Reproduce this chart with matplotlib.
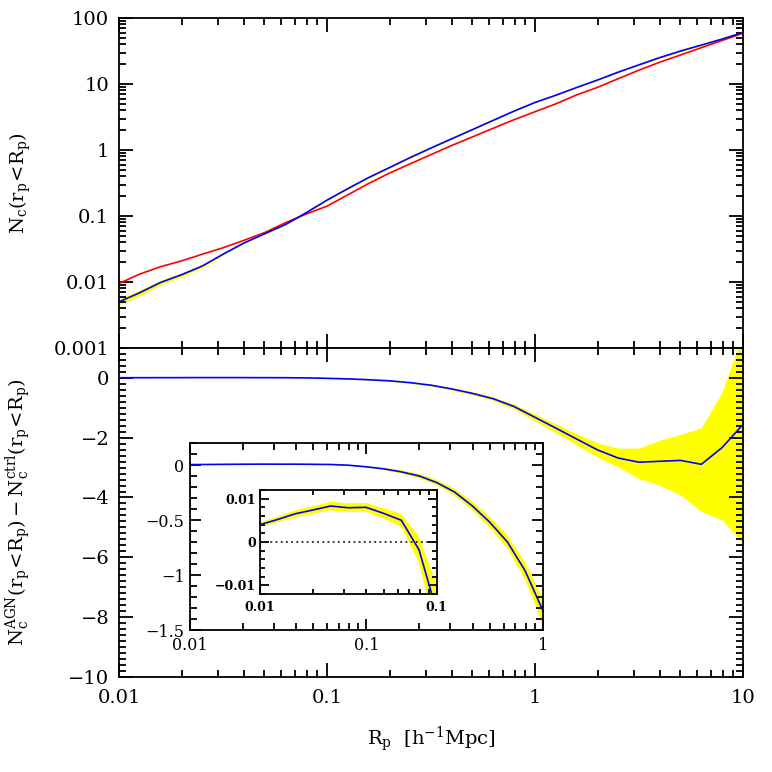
import numpy as np
import matplotlib
matplotlib.use('Agg')
import matplotlib.pyplot as plt
from matplotlib.ticker import LogLocator, MultipleLocator, FuncFormatter, NullFormatter

plt.rcParams['font.family'] = ['DejaVu Serif']
plt.rcParams['mathtext.fontset'] = 'dejavuserif'

# projected radius bins [h^-1 Mpc]
rp = [0.01, 0.0126, 0.0158, 0.02, 0.0251, 0.0316, 0.0398, 0.0501, 0.0631, 0.0794,
      0.1, 0.126, 0.158, 0.2, 0.251, 0.316, 0.398, 0.501, 0.631, 0.794,
      1.0, 1.26, 1.58, 2.0, 2.51, 3.16, 3.98, 5.01, 6.31, 7.94, 10.0]

# cumulative counts, control sample (blue) and AGN sample (red)
n_ctrl = [0.0050, 0.0069, 0.0098, 0.0129, 0.0174, 0.0263, 0.0389, 0.0537, 0.0741, 0.112,
          0.174, 0.260, 0.380, 0.543, 0.767, 1.07, 1.48, 2.04, 2.82, 3.89,
          5.25, 6.76, 8.81, 11.5, 15.1, 19.5, 25.1, 31.6, 38.9, 47.9, 60.3]
n_agn = [0.0095, 0.0132, 0.0170, 0.0209, 0.0263, 0.033, 0.0427, 0.056, 0.079, 0.107,
         0.141, 0.209, 0.309, 0.447, 0.617, 0.851, 1.17, 1.58, 2.14, 2.88,
         3.8, 5.0, 6.8, 8.9, 12.0, 16.2, 21.4, 27.5, 35.5, 45.7, 58.9]

# difference AGN - ctrl and its band
diff = [0.0040, 0.0052, 0.0065, 0.0074, 0.0083, 0.0079, 0.0080, 0.0066, 0.0050, -0.0018,
        -0.016, -0.035, -0.062, -0.10, -0.16, -0.245, -0.37, -0.52, -0.70, -0.96,
        -1.32, -1.68, -2.04, -2.41, -2.68, -2.82, -2.79, -2.76, -2.89, -2.33, -1.56]
diff_lo = [0.0035, 0.0045, 0.0057, 0.0065, 0.0073, 0.0069, 0.0070, 0.0054, 0.0035, -0.0048,
           -0.022, -0.045, -0.077, -0.12, -0.185, -0.275, -0.41, -0.57, -0.76, -1.04,
           -1.45, -1.83, -2.24, -2.65, -2.98, -3.37, -3.59, -3.92, -4.47, -4.75, -5.52]
diff_hi = [0.0045, 0.0059, 0.0073, 0.0083, 0.0093, 0.0089, 0.0090, 0.0078, 0.0065, 0.0012,
           -0.010, -0.025, -0.047, -0.08, -0.135, -0.215, -0.33, -0.47, -0.64, -0.88,
           -1.21, -1.54, -1.86, -2.17, -2.35, -2.35, -2.08, -1.89, -1.67, -0.47, 1.5]

rp = np.array(rp)
n_ctrl = np.array(n_ctrl)
half = (np.array(diff_hi) - np.array(diff_lo)) / 2

BLUE = '#0000ff'
RED = '#ff0000'
YEL = '#ffff00'
LW = 1.2

fmt = FuncFormatter(lambda v, p: ('%g' % v).replace('-', '\u2212'))


def style(ax, fs, maj, mnr, pad, w=1.3):
    ax.tick_params(which='both', direction='in', top=True, right=True, width=w, labelsize=fs)
    ax.tick_params(which='major', length=maj, pad=pad)
    ax.tick_params(which='minor', length=mnr)
    for s in ax.spines.values():
        s.set_linewidth(w)


def logx(ax):
    ax.set_xscale('log')
    ax.xaxis.set_major_locator(LogLocator(base=10))
    ax.xaxis.set_minor_locator(LogLocator(base=10, subs=np.arange(2, 10)))
    ax.xaxis.set_minor_formatter(NullFormatter())
    ax.xaxis.set_major_formatter(fmt)


fig = plt.figure(figsize=(7.72, 7.72), dpi=100)

# top panel
ax1 = fig.add_axes([0.1541, 0.5492, 0.8083, 0.4275])
ax1.fill_between(rp, n_ctrl - half, n_ctrl + half, color=YEL, lw=0)
ax1.plot(rp, n_agn, color=RED, lw=LW)
ax1.plot(rp, n_ctrl, color=BLUE, lw=LW)
logx(ax1)
ax1.set_yscale('log')
ax1.yaxis.set_major_locator(LogLocator(base=10))
ax1.yaxis.set_minor_locator(LogLocator(base=10, subs=np.arange(2, 10)))
ax1.yaxis.set_minor_formatter(NullFormatter())
ax1.yaxis.set_major_formatter(fmt)
ax1.set_xlim(0.01, 10)
ax1.set_ylim(0.001, 100)
ax1.tick_params(labelbottom=False)
style(ax1, 14, 10, 5, 7)
ax1.set_ylabel(r'$\mathrm{N_c(r_p\!<\!R_p)}$', fontsize=14)
ax1.yaxis.set_label_coords(-0.138, 0.5)

# bottom panel
ax2 = fig.add_axes([0.1541, 0.1231, 0.8083, 0.4262])
ax2.fill_between(rp, diff_lo, diff_hi, color=YEL, lw=0)
ax2.plot(rp, diff, color=BLUE, lw=LW)
logx(ax2)
ax2.set_xlim(0.01, 10)
ax2.set_ylim(-10, 1)
ax2.yaxis.set_major_locator(MultipleLocator(2))
ax2.yaxis.set_minor_locator(MultipleLocator(0.2))
ax2.yaxis.set_major_formatter(fmt)
style(ax2, 14, 10, 5, 7)
ax2.tick_params(axis='x', which='major', pad=9)
ax2.set_xlabel(r'$\mathrm{R_p\ \ [h^{-1}Mpc]}$', fontsize=14, labelpad=12)
ax2.set_ylabel(r'$\mathrm{N_c^{AGN}(r_p\!<\!R_p)-N_c^{ctrl}(r_p\!<\!R_p)}$', fontsize=14)
ax2.yaxis.set_label_coords(-0.138, 0.5)

# inset
ax3 = fig.add_axes([0.2461, 0.1839, 0.4569, 0.2422])
ax3.fill_between(rp, diff_lo, diff_hi, color=YEL, lw=0)
ax3.plot(rp, diff, color=BLUE, lw=LW)
logx(ax3)
ax3.set_xlim(0.01, 1)
ax3.set_ylim(-1.5, 0.2)
ax3.yaxis.set_major_locator(MultipleLocator(0.5))
ax3.yaxis.set_minor_locator(MultipleLocator(0.1))
ax3.yaxis.set_major_formatter(fmt)
style(ax3, 11.5, 8, 5, 4)
ax3.tick_params(axis='x', which='major', pad=5)

# inset of the inset
ax4 = fig.add_axes([0.3368, 0.2306, 0.2289, 0.1347])
ax4.fill_between(rp, diff_lo, diff_hi, color=YEL, lw=0)
ax4.axhline(0, color='black', lw=1.1, ls=(0, (1.2, 2.2)))
ax4.plot(rp, diff, color=BLUE, lw=LW)
logx(ax4)
ax4.set_xlim(0.01, 0.1)
ax4.set_ylim(-0.012, 0.012)
ax4.yaxis.set_major_locator(MultipleLocator(0.01))
ax4.yaxis.set_minor_locator(MultipleLocator(0.002))
ax4.yaxis.set_major_formatter(fmt)
style(ax4, 9, 6.5, 3.5, 3)
ax4.tick_params(axis='x', which='major', pad=5)
for lab in ax4.get_xticklabels() + ax4.get_yticklabels():
    lab.set_fontweight('bold')

fig.savefig('out.png', dpi=100)
